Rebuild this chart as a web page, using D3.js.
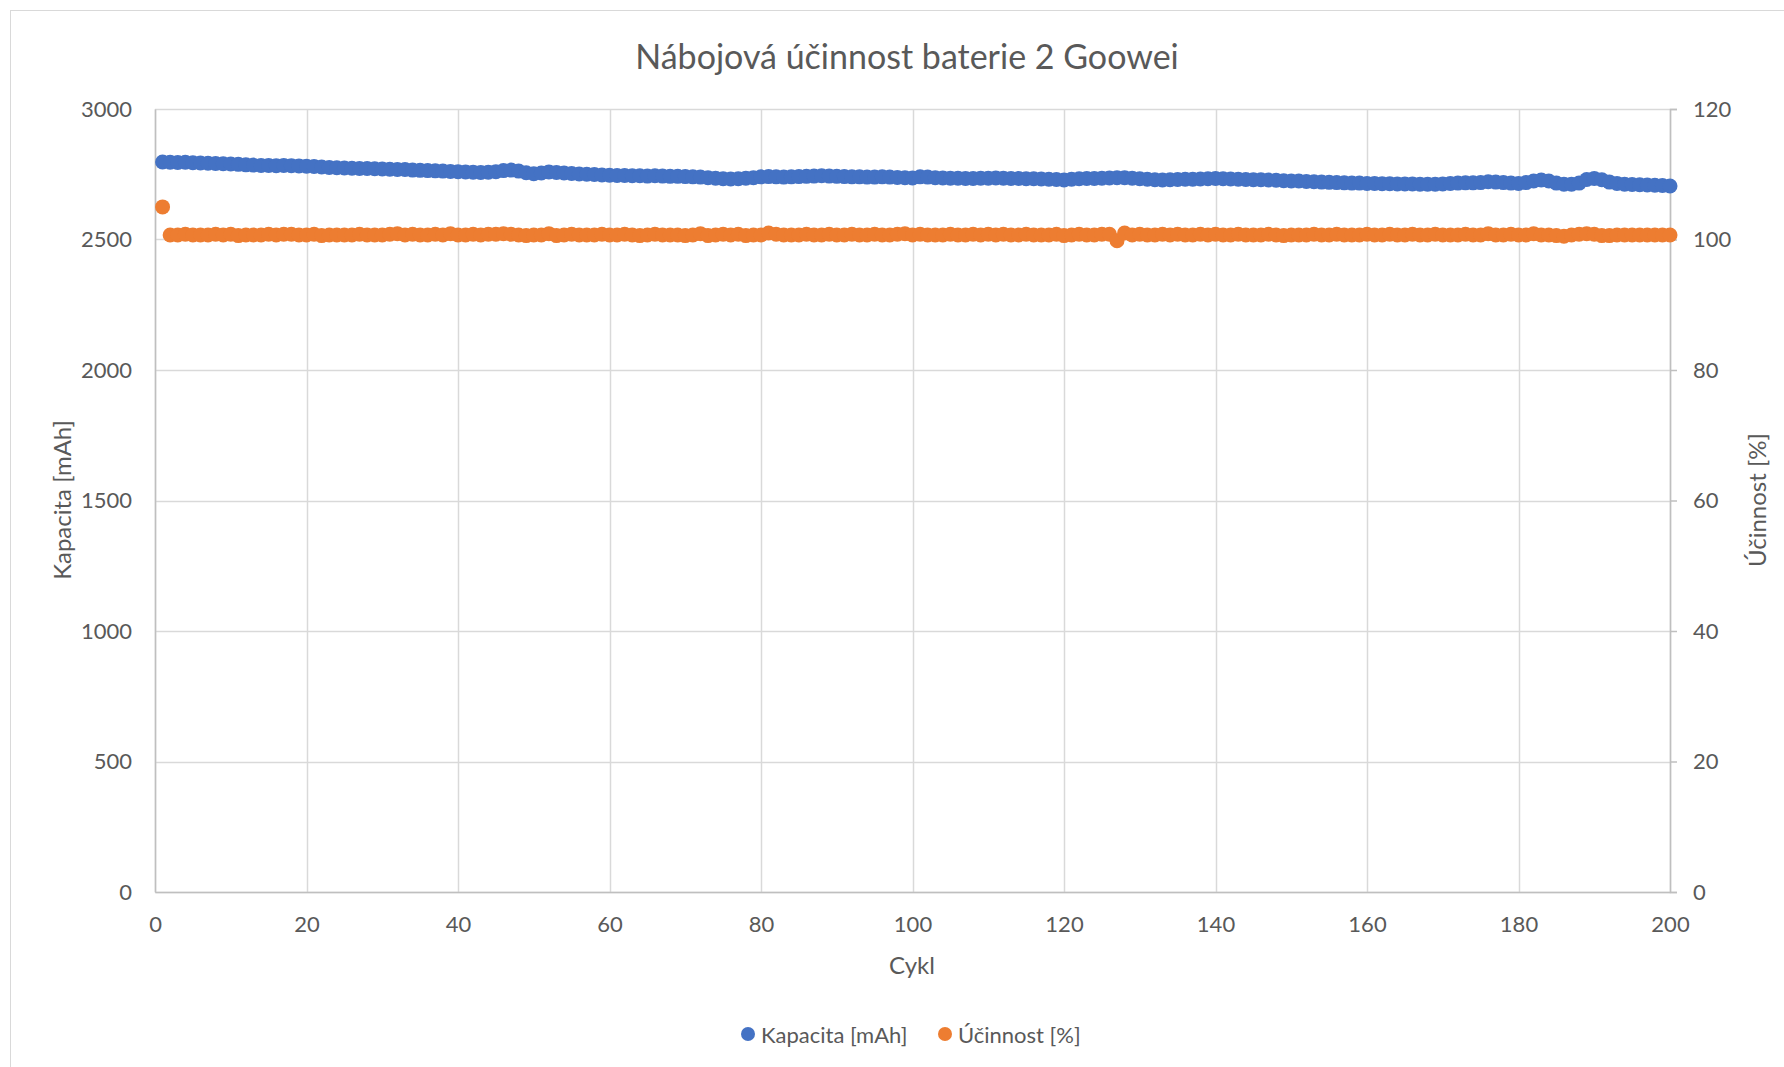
<!DOCTYPE html>
<html><head><meta charset="utf-8">
<script src="https://cdn.jsdelivr.net/npm/d3@7"></script>
<style>body{margin:0;background:#fff}svg{display:block}text{font-family:Lato,"Open Sans",sans-serif;fill:#595959}</style>
</head><body><svg id="c" width="1784" height="1067"></svg>
<script>
const title = "Nábojová účinnost baterie 2 Goowei";
const xTitle = "Cykl";
const yLeftTitle = "Kapacita [mAh]";
const yRightTitle = "Účinnost [%]";
const seriesNames = ["Kapacita [mAh]", "Účinnost [%]"];
const xTicks = [0,20,40,60,80,100,120,140,160,180,200];
const yLeftTicks = [0,500,1000,1500,2000,2500,3000];
const yRightTicks = [0,20,40,60,80,100,120];

const kapacita = [
2797,2796,2795,2796,2794,2793,2792,2791,2790,2789,
2788,2786,2785,2784,2784,2783,2784,2783,2782,2781,
2780,2778,2776,2775,2774,2773,2772,2772,2771,2770,
2769,2768,2768,2766,2765,2764,2763,2762,2761,2760,
2759,2758,2757,2758,2760,2764,2766,2762,2756,2752,
2755,2759,2757,2755,2753,2751,2750,2749,2747,2746,
2745,2745,2744,2744,2743,2744,2743,2742,2742,2741,
2740,2739,2737,2735,2733,2732,2733,2735,2737,2740,
2741,2740,2739,2740,2741,2742,2743,2744,2743,2742,
2741,2740,2740,2739,2739,2740,2739,2738,2737,2736,
2740,2739,2737,2736,2735,2735,2734,2734,2735,2735,
2736,2735,2734,2734,2733,2733,2732,2731,2730,2728,
2731,2733,2734,2734,2735,2736,2737,2737,2735,2733,
2731,2729,2728,2729,2730,2731,2731,2732,2733,2734,
2733,2732,2731,2730,2729,2729,2728,2727,2725,2724,
2724,2722,2721,2720,2719,2718,2717,2716,2716,2715,
2715,2714,2714,2713,2713,2713,2712,2712,2712,2713,
2715,2716,2717,2717,2718,2721,2720,2718,2716,2715,
2718,2724,2728,2724,2716,2712,2712,2716,2730,2734,
2729,2720,2715,2712,2711,2710,2709,2708,2707,2705];

const ucinnost = [
105.0,100.7,100.7,100.8,100.7,100.7,100.7,100.8,100.7,100.8,
100.6,100.7,100.7,100.7,100.8,100.7,100.8,100.8,100.7,100.7,
100.8,100.6,100.7,100.7,100.7,100.7,100.8,100.7,100.7,100.7,
100.8,100.9,100.7,100.8,100.7,100.7,100.8,100.7,100.9,100.7,
100.7,100.8,100.7,100.8,100.8,100.9,100.8,100.7,100.6,100.7,
100.7,100.9,100.6,100.7,100.8,100.7,100.7,100.7,100.8,100.7,
100.7,100.8,100.7,100.6,100.7,100.8,100.7,100.7,100.7,100.6,
100.7,100.9,100.6,100.7,100.8,100.7,100.8,100.6,100.7,100.7,
101.0,100.8,100.7,100.7,100.7,100.8,100.7,100.7,100.8,100.7,
100.7,100.8,100.7,100.7,100.8,100.7,100.7,100.8,100.9,100.7,
100.8,100.7,100.7,100.7,100.8,100.7,100.7,100.8,100.7,100.8,
100.7,100.8,100.7,100.7,100.8,100.7,100.7,100.7,100.8,100.6,
100.7,100.8,100.7,100.7,100.8,100.8,99.8,101.0,100.7,100.8,
100.7,100.7,100.8,100.7,100.8,100.7,100.7,100.8,100.7,100.8,
100.7,100.7,100.8,100.7,100.7,100.7,100.8,100.7,100.6,100.7,
100.7,100.7,100.8,100.7,100.7,100.8,100.7,100.7,100.7,100.8,
100.7,100.7,100.8,100.7,100.7,100.8,100.7,100.7,100.8,100.7,
100.7,100.7,100.8,100.7,100.7,100.9,100.7,100.7,100.8,100.7,
100.7,100.9,100.7,100.7,100.6,100.5,100.7,100.8,100.9,100.8,
100.6,100.6,100.7,100.7,100.7,100.7,100.7,100.7,100.7,100.7];

const colors = ["#4472C4", "#ED7D31"];

const svg = d3.select("#c");
const m = {l:155, r:1670, t:109, b:892};
const x = d3.scaleLinear().domain([0,200]).range([m.l, m.r]);
const yL = d3.scaleLinear().domain([0,3000]).range([m.b, m.t]);
const yR = d3.scaleLinear().domain([0,120]).range([m.b, m.t]);

// outer border
svg.append("rect").attr("x",10.5).attr("y",10.5).attr("width",1800).attr("height",1100)
  .attr("fill","none").attr("stroke","#D9D9D9").attr("stroke-width",1);

// gridlines
svg.append("g").selectAll("line").data(yLeftTicks).join("line")
  .attr("x1",m.l).attr("x2",m.r).attr("y1",d=>Math.round(yL(d))+0.5).attr("y2",d=>Math.round(yL(d))+0.5)
  .attr("stroke","#D9D9D9").attr("stroke-width",1.5);
svg.append("g").selectAll("line").data(xTicks).join("line")
  .attr("y1",m.t).attr("y2",m.b).attr("x1",d=>Math.round(x(d))+0.5).attr("x2",d=>Math.round(x(d))+0.5)
  .attr("stroke","#D9D9D9").attr("stroke-width",1.5);

// axes
const fmt = d3.format("d");
const axL = svg.append("g").attr("transform",`translate(${m.l},0)`)
  .call(d3.axisLeft(yL).tickValues(yLeftTicks).tickFormat(fmt).tickSize(0).tickPadding(23));
const axR = svg.append("g").attr("transform",`translate(${m.r},0)`)
  .call(d3.axisRight(yR).tickValues(yRightTicks).tickFormat(fmt).tickSize(7).tickPadding(16));
const axB = svg.append("g").attr("transform",`translate(0,${m.b})`)
  .call(d3.axisBottom(x).tickValues(xTicks).tickFormat(fmt).tickSize(0));
[axL,axR,axB].forEach(g=>{
  g.attr("font-family",null).attr("font-size",null);
  g.selectAll("path").attr("stroke","#BFBFBF").attr("stroke-width",1.5);
  g.selectAll(".tick line").attr("stroke","#BFBFBF").attr("stroke-width",1.5);
  g.selectAll("text").attr("font-size",22).attr("fill","#595959");
});
axB.selectAll("text").attr("y",32).attr("dy","0.35em");

// series
const idx = d3.range(1, 201);
svg.append("g").selectAll("circle").data(idx).join("circle")
  .attr("cx",d=>x(d)).attr("cy",(d,i)=>yL(kapacita[i])).attr("r",7.5).attr("fill",colors[0]);
svg.append("g").selectAll("circle").data(idx).join("circle")
  .attr("cx",d=>x(d)).attr("cy",(d,i)=>yR(ucinnost[i])).attr("r",7.5).attr("fill",colors[1]);

// titles
svg.append("text").attr("x",907).attr("y",55).attr("text-anchor","middle").attr("dominant-baseline","central")
  .attr("font-size",34).text(title);
svg.append("text").attr("x",912).attr("y",964).attr("text-anchor","middle").attr("dominant-baseline","central")
  .attr("font-size",24).text(xTitle);
svg.append("text").attr("transform","translate(61,500) rotate(-90)").attr("text-anchor","middle").attr("dominant-baseline","central")
  .attr("font-size",24).text(yLeftTitle);
svg.append("text").attr("transform","translate(1756,500) rotate(-90)").attr("text-anchor","middle").attr("dominant-baseline","central")
  .attr("font-size",24).text(yRightTitle);

// legend
const leg = [{cx:748, tx:761},{cx:945, tx:958}];
seriesNames.forEach((n,i)=>{
  svg.append("circle").attr("cx",leg[i].cx).attr("cy",1034).attr("r",7).attr("fill",colors[i]);
  svg.append("text").attr("x",leg[i].tx).attr("y",1034).attr("dominant-baseline","central").attr("font-size",22).text(n);
});
</script></body></html>
